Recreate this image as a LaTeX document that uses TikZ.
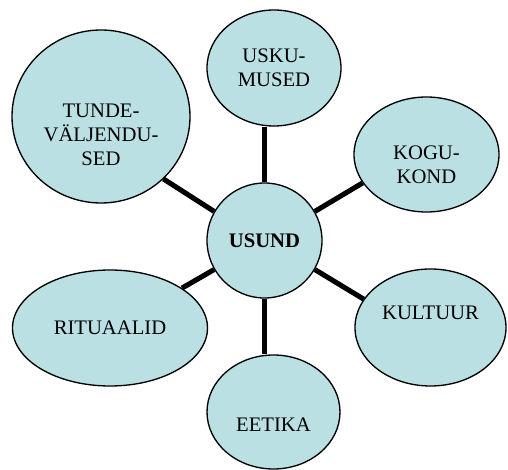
\documentclass[tikz,border=0pt]{standalone}
\usepackage{fontspec}
\setmainfont{Liberation Serif}
\usetikzlibrary{shapes}
\usetikzlibrary{positioning}

\definecolor{ovalblue}{RGB}{186,224,227}

\begin{document}
\begin{tikzpicture}[
    x=0.75pt, y=-0.75pt,
    font=\fontsize{15.5}{18}\selectfont
]
\tikzset{
    myoval/.style = {ellipse, draw=black, line width=1pt, fill=ovalblue, inner sep=0pt, align=center},
    mytext/.style = {align=center, inner sep=0pt},
    edgen/.style = {line width=3.8pt, black}
}
\useasboundingbox (0,0) rectangle (508,470);
\node[myoval, minimum width=86.25pt, minimum height=86.25pt] at (264.5,240.5) (usund) {\textbf{USUND}};
\node[myoval, minimum width=100.5pt, minimum height=87pt] at (274,68) (usku) {USKU-\\MUSED};
\node[myoval, minimum width=133.5pt, minimum height=129.75pt,
      label={[mytext,yshift=-14pt]center:{TUNDE-\\VÄLJENDU-\\SED}}] at (101,116.5) (tunde) {};
\node[myoval, minimum width=108.75pt, minimum height=86.25pt,
      label={[mytext,yshift=-7.5pt]center:{KOGU-\\KOND}}] at (426.5,154.5) (kogu) {};
\node[myoval, minimum width=113.25pt, minimum height=87.75pt,
      label={[mytext,yshift=11pt]center:KULTUUR}] at (430.5,327.5) (kultuur) {};
\node[myoval, minimum width=146.25pt, minimum height=87pt] at (110,328) (ritual) {RITUAALID};
\node[myoval, minimum width=99.75pt, minimum height=85.5pt,
      label={[mytext,yshift=-9.75pt]center:EETIKA}] at (273.5,412) (eetika) {};
\draw[edgen] (usund.north) -- (usund.north |- usku.south);
\draw[edgen] (usund.150) -- (tunde.315);
\draw[edgen] (usund.30) -- (kogu.204);
\draw[edgen] (usund.330) -- (kultuur.157);
\draw[edgen] (usund.210) -- (ritual.29);
\draw[edgen] (usund.south) -- (usund.south |- eetika.north);
\end{tikzpicture}
\end{document}
